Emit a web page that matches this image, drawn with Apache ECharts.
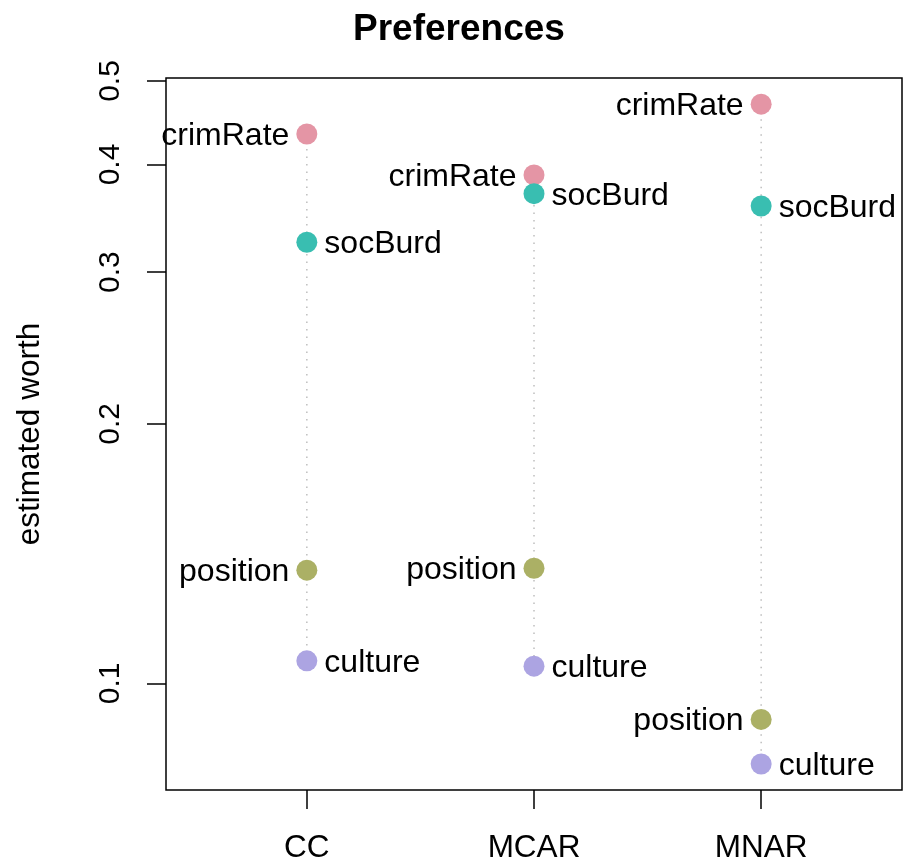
<!DOCTYPE html>
<html><head><meta charset="utf-8">
<script src="https://cdn.jsdelivr.net/npm/echarts@6/dist/echarts.min.js"></script>
<style>html,body{margin:0;padding:0;background:#fff}#c{width:903px;height:867px}</style>
</head><body><div id="c"></div>
<script>
const categories = ['CC', 'MCAR', 'MNAR'];
const items = ['crimRate', 'socBurd', 'position', 'culture'];
const crimRate = [0.434, 0.389, 0.470];
const socBurd = [0.325, 0.370, 0.358];
const position = [0.1353, 0.136, 0.0908];
const culture = [0.1062, 0.1047, 0.0806];
const yTicks = [0.1, 0.2, 0.3, 0.4, 0.5];
const xTicks = [1, 2, 3];

const values = [crimRate, socBurd, position, culture];
const colors = ['#E495A5', '#39BEB1', '#ABB065', '#ACA4E2'];
const labelSide = ['left', 'right', 'left', 'right'];
const FONT = 'Liberation Sans';

const series = [];
categories.forEach((c, i) => {
  const col = values.map(v => v[i]);
  series.push({
    type: 'line', silent: true, symbol: 'none', z: 1,
    data: [[i + 1, Math.max(...col)], [i + 1, Math.min(...col)]],
    lineStyle: { color: '#BEBEBE', width: 1.5, type: [1.5, 6] }
  });
});
items.forEach((name, k) => {
  series.push({
    type: 'scatter', name: name, z: 3,
    symbol: 'circle', symbolSize: 21,
    itemStyle: { color: colors[k], opacity: 1 },
    label: {
      show: true, position: labelSide[k], distance: 7, offset: [0, 2],
      formatter: () => name,
      color: '#000', fontFamily: FONT, fontSize: 32
    },
    data: categories.map((c, i) => [i + 1, values[k][i]])
  });
});

const chart = echarts.init(document.getElementById('c'));
chart.setOption({
  animation: false,
  backgroundColor: '#fff',
  title: {
    text: 'Preferences', left: 348, top: 6,
    textStyle: { fontFamily: FONT, fontWeight: 'bold', fontSize: 37, color: '#000' }
  },
  grid: { left: 166, right: 1, top: 78, bottom: 77, show: true, borderColor: '#000', borderWidth: 1.5, backgroundColor: 'transparent' },
  xAxis: {
    type: 'value', min: 0.38, max: 3.62,
    splitLine: { show: false },
    axisLine: { show: false },
    axisTick: { show: true, length: 19, customValues: xTicks, lineStyle: { color: '#000', width: 1.5 } },
    axisLabel: {
      customValues: xTicks, margin: 42,
      formatter: v => categories[Math.round(v) - 1],
      color: '#000', fontFamily: FONT, fontSize: 31.5
    }
  },
  yAxis: {
    type: 'log', logBase: 10, min: 0.0752, max: 0.504,
    name: 'estimated worth', nameLocation: 'middle', nameGap: 120,
    nameTextStyle: { fontFamily: FONT, fontSize: 31.5, color: '#000' },
    splitLine: { show: false },
    minorTick: { show: false },
    axisLine: { show: false },
    axisTick: { show: true, length: 19, customValues: yTicks, lineStyle: { color: '#000', width: 1.5 } },
    axisLabel: {
      customValues: yTicks, rotate: 90, margin: 40,
      formatter: v => String(v),
      color: '#000', fontFamily: FONT, fontSize: 30
    }
  },
  series: series
});
</script></body></html>
